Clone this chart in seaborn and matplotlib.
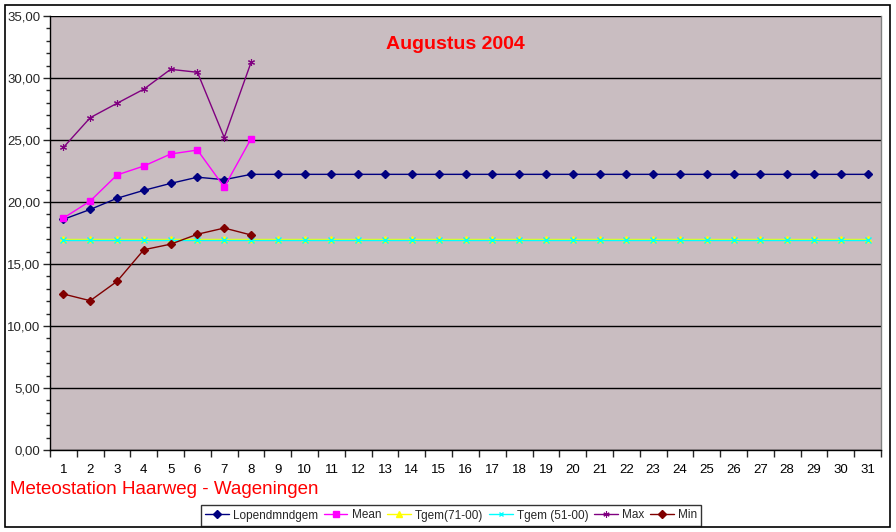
import matplotlib
matplotlib.use("Agg")
import matplotlib.pyplot as plt
import seaborn as sns
import numpy as np
import pandas as pd
from matplotlib.lines import Line2D
from matplotlib.patches import Rectangle
from matplotlib.ticker import MultipleLocator, FuncFormatter

days = list(range(1, 32))
lopend = [18.6, 19.4, 20.3, 20.94, 21.5, 22.0, 21.8] + [22.23] * 24
mean = [18.7, 20.08, 22.18, 22.9, 23.87, 24.19, 21.2, 25.1]
tgem7100 = [17.05] * 31
tgem5100 = [16.9] * 31
tmax = [24.4, 26.8, 27.96, 29.1, 30.7, 30.46, 25.2, 31.26]
tmin = [12.58, 12.04, 13.6, 16.15, 16.6, 17.4, 17.9, 17.34]

series = [
    ("Lopendmndgem", lopend, "#000080", "D", 4.5, 1),
    ("Mean", mean, "#FF00FF", "s", 5, 1),
    ("Tgem(71-00)", tgem7100, "#FFFF00", "^", 5, 1),
    ("Tgem (51-00)", tgem5100, "#00FFFF", "x", 4, 1),
    ("Max", tmax, "#800080", (6, 2, 0), 5, 0.8),
    ("Min", tmin, "#800000", "D", 4.5, 1),
]

sns.set_style("white")
plt.rcParams['font.family'] = ['Liberation Sans', 'DejaVu Sans']

fig = plt.figure(figsize=(8.96, 5.32), dpi=100)
fig.patch.set_facecolor("white")
W, H = 896, 532
ax = fig.add_axes([50 / W, 1 - 450 / H, (881 - 50) / W, (450 - 16) / H])
ax.set_facecolor("#C9BDC1")

handles = []
for name, vals, col, mk, ms, mew in series:
    df = pd.DataFrame({"day": days[:len(vals)], "val": vals})
    sns.lineplot(data=df, x="day", y="val", ax=ax, color=col, marker=mk,
                 markersize=ms, markeredgecolor=col, markerfacecolor=col,
                 markeredgewidth=mew, linewidth=1, legend=False)
    handles.append(Line2D([], [], color=col, marker=mk, markersize=ms - 0.5,
                          markeredgecolor=col, markerfacecolor=col,
                          markeredgewidth=mew, linewidth=1))

ax.set_xlim(0.5, 31.5)
ax.set_ylim(0, 35)
ax.set_xlabel("")
ax.set_ylabel("")

ax.yaxis.set_major_locator(MultipleLocator(5))
ax.yaxis.set_minor_locator(MultipleLocator(1))
ax.yaxis.set_major_formatter(FuncFormatter(lambda v, p: f"{v:.2f}".replace(".", ",")))
ax.set_xticks(days)
ax.set_xticklabels([str(d) for d in days])
ax.set_xticks(np.arange(0.5, 32, 1), minor=True)
ax.tick_params(axis="x", which="major", length=0, pad=10, labelsize=9.5, colors="black")
ax.tick_params(axis="x", which="minor", length=5, width=1, direction="out", bottom=True)
ax.tick_params(axis="y", which="major", length=5, width=1, direction="out", left=True, labelsize=9.5, pad=2)
ax.tick_params(axis="y", which="minor", length=3, width=1, direction="out", left=True)

ax.grid(axis="y", which="major", color="black", linewidth=1)
ax.grid(axis="x", visible=False)
ax.set_axisbelow(True)
for s in ["top"]:
    ax.spines[s].set_visible(False)
for s in ["left", "bottom"]:
    ax.spines[s].set_visible(True)
    ax.spines[s].set_color("black")
    ax.spines[s].set_linewidth(1)
ax.spines["right"].set_visible(True)
ax.spines["right"].set_color("#808080")
ax.spines["right"].set_linewidth(1)

ax.text(0.488, 0.935, "Augustus 2004", transform=ax.transAxes, color="#FF0000",
        fontsize=14, fontweight="bold", ha="center", va="center")

fig.text(10 / W, 1 - 489 / H, "Meteostation Haarweg - Wageningen", color="#FF0000",
         fontsize=13.5, ha="left", va="center")

leg = fig.legend(handles, [s[0] for s in series], loc="center",
                 bbox_to_anchor=(451 / W, 1 - 515.5 / H), ncol=6, fontsize=8.5,
                 frameon=True, fancybox=False, handlelength=2.0, handletextpad=0.35,
                 columnspacing=0.5, borderpad=0.35, borderaxespad=0)
leg.get_frame().set_edgecolor("black")
leg.get_frame().set_linewidth(1)

fig.add_artist(Rectangle((5 / W, 1 - 527 / H), 885 / W, 522 / H, transform=fig.transFigure,
                         fill=False, edgecolor="black", linewidth=1.2))

fig.savefig("out.png", dpi=100)
